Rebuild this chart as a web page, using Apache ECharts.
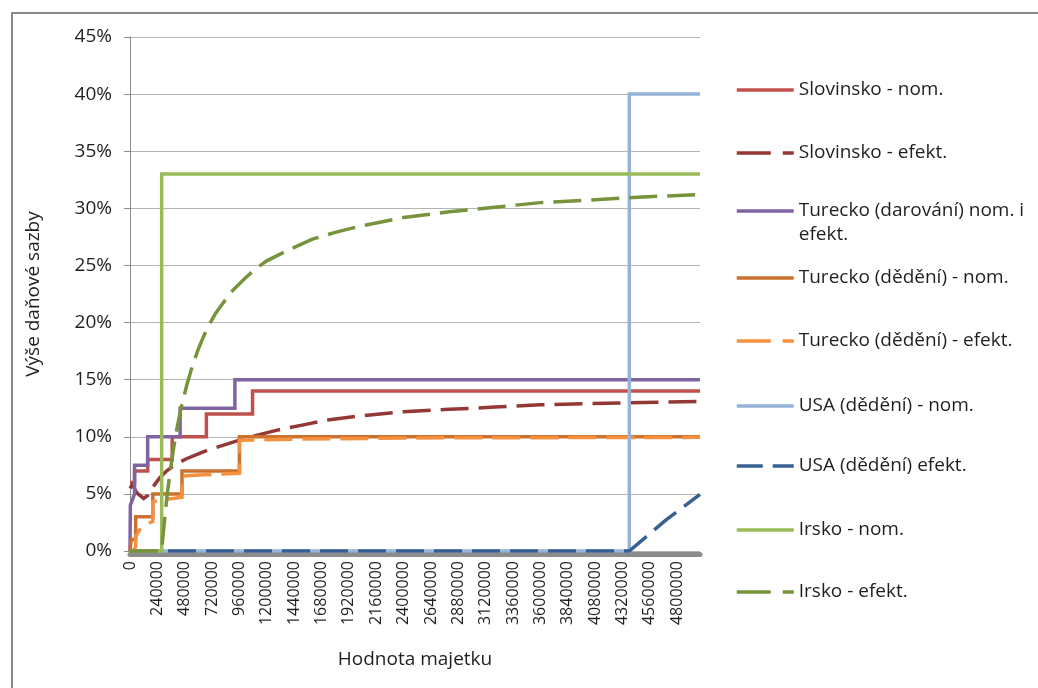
<!DOCTYPE html>
<html>
<head>
<meta charset="utf-8">
<script src="https://cdn.jsdelivr.net/npm/echarts@6.0.0/dist/echarts.min.js"></script>
<style>
  html, body { margin: 0; padding: 0; background: #fff; }
  #chart { width: 1038px; height: 688px; }
</style>
</head>
<body>
<div id="chart"></div>
<script>
// Tax rate (%) by asset value (CZK); each series is a list of [value, rate] points.
const seriesNames = [
  'Slovinsko - nom.',
  'Slovinsko - efekt.',
  'Turecko (darování) nom. i efekt.',
  'Turecko (dědění) - nom.',
  'Turecko (dědění) - efekt.',
  'USA (dědění) - nom.',
  'USA (dědění) efekt.',
  'Irsko - nom.',
  'Irsko - efekt.'
];

const slovinskoNom = [[0, 6], [40000, 6], [40000, 7], [155000, 7], [155000, 8], [370000, 8], [370000, 10],
  [670000, 10], [670000, 12], [1075000, 12], [1075000, 14], [5000000, 14]];

const slovinskoEfekt = [[0, 5.5], [20000, 5.8], [60000, 5.1], [120000, 4.6], [160000, 4.9], [200000, 5.6],
  [260000, 6.4], [320000, 7.0], [400000, 7.6], [500000, 8.1], [600000, 8.5], [700000, 8.9], [800000, 9.2],
  [960000, 9.7], [1100000, 10.1], [1300000, 10.6], [1500000, 11.0], [1750000, 11.5], [2000000, 11.8],
  [2400000, 12.2], [2800000, 12.4], [3200000, 12.6], [3600000, 12.8], [4000000, 12.9], [4500000, 13.0],
  [5000000, 13.1]];

const tureckoDarovani = [[0, 0], [3000, 4], [40000, 5], [40000, 7.5], [155000, 7.5], [155000, 10],
  [440000, 10], [440000, 12.5], [920000, 12.5], [920000, 15], [5000000, 15]];

const tureckoDedeniNom = [[0, 0], [10000, 0], [10000, 1], [50000, 1], [50000, 3], [200000, 3], [200000, 5],
  [456000, 5], [456000, 7], [960000, 7], [960000, 10], [5000000, 10]];

const tureckoDedeniEfekt = [[0, 0], [30000, 0], [50000, 0.4], [50000, 1.3], [100000, 2.1], [200000, 2.6],
  [200000, 4.3], [300000, 4.5], [456000, 4.7], [456000, 6.55], [600000, 6.65], [800000, 6.75], [960000, 6.8],
  [960000, 9.7], [1500000, 9.8], [2500000, 9.9], [5000000, 9.95]];

const usaNom = [[0, 0], [4380000, 0], [4380000, 40], [5000000, 40]];

const usaEfekt = [[0, 0], [4380000, 0], [4700000, 2.7], [5000000, 4.95]];

const irskoNom = [[0, 0], [278000, 0], [278000, 33], [5000000, 33]];

const irskoEfekt = [[0, 0], [278000, 0], [290000, 1.4], [300000, 2.4], [310000, 3.4], [325000, 4.8],
  [350000, 6.8], [375000, 8.5], [400000, 10.1], [425000, 11.4], [450000, 12.6], [500000, 14.6],
  [550000, 16.3], [600000, 17.7], [650000, 18.9], [700000, 19.9], [750000, 20.8], [800000, 21.5],
  [900000, 22.8], [1000000, 23.8], [1100000, 24.7], [1200000, 25.4], [1300000, 25.9], [1400000, 26.4],
  [1600000, 27.3], [1800000, 27.9], [2000000, 28.4], [2400000, 29.2], [2800000, 29.7], [3200000, 30.1],
  [3600000, 30.5], [4000000, 30.7], [4500000, 31.0], [5000000, 31.2]];

// Axis ranges and tick steps
const xMax = 5000000, xStep = 240000;
const yMax = 45, yStep = 5;

const FONT = '"Open Sans", "Noto Sans", sans-serif';
const TEXT = '#1f1f1f';
const DASH = [28, 10];
const LINE_W = 3.5;

const styles = [
  { color: '#C0504D', dash: null },
  { color: '#953735', dash: [34, 12] },
  { color: '#8064A2', dash: null },
  { color: '#CC7230', dash: null },
  { color: '#F5913E', dash: [34, 12] },
  { color: '#95B3D7', dash: null },
  { color: '#376092', dash: [26, 10] },
  { color: '#9BBB59', dash: null },
  { color: '#77933C', dash: [34, 12] }
];
const seriesData = [slovinskoNom, slovinskoEfekt, tureckoDarovani, tureckoDedeniNom, tureckoDedeniEfekt,
  usaNom, usaEfekt, irskoNom, irskoEfekt];

// vertical centres of the legend rows (first text line)
const legendCenters = [90, 153, 211, 278, 341, 406, 466, 530, 592];
const ROW = 24;

const series = seriesNames.map((name, i) => ({
  name,
  type: 'line',
  data: seriesData[i],
  symbol: 'none',
  showSymbol: false,
  lineStyle: { color: styles[i].color, width: LINE_W, type: styles[i].dash ? DASH : 'solid', join: 'miter', cap: 'butt' },
  itemStyle: { color: styles[i].color },
  emphasis: { disabled: true },
  animation: false
}));

// the two-line entry gets a blank leading line so its first line sits level with the icon
const legends = seriesNames.map((name, i) => ({
  data: [name],
  orient: 'vertical',
  left: 735,
  top: i === 2 ? legendCenters[i] - ROW * 1.5 : legendCenters[i] - ROW / 2,
  padding: 0,
  itemWidth: 57,
  itemHeight: ROW,
  selectedMode: false,
  itemStyle: { opacity: 0 },
  lineStyle: {
    color: styles[i].color, width: LINE_W,
    type: styles[i].dash ? styles[i].dash : 'solid', cap: 'butt'
  },
  formatter: i === 2 ? ' \nTurecko (darování) nom. i\nefekt.' : '{name}',
  textStyle: { fontFamily: FONT, fontSize: 19, color: TEXT, lineHeight: ROW }
}));

const chart = echarts.init(document.getElementById('chart'), null, { renderer: 'canvas' });
chart.setOption({
  animation: false,
  backgroundColor: '#ffffff',
  graphic: [{
    type: 'rect', silent: true, z: -10,
    shape: { x: 12, y: 13, width: 1100, height: 720 },
    style: { fill: 'none', stroke: '#8a8a8a', lineWidth: 2 }
  }],
  grid: { left: 130, top: 37, right: 338, bottom: 137, containLabel: false },
  legend: legends,
  xAxis: {
    type: 'value',
    min: 0, max: xMax, interval: xStep,
    offset: 3,
    axisLine: { onZero: false, lineStyle: { color: '#8c8c8c', width: 5 } },
    axisTick: { show: false },
    splitLine: { show: false },
    axisLabel: {
      rotate: 90, margin: 7, fontSize: 16, fontFamily: FONT, color: TEXT,
      showMaxLabel: false,
      formatter: v => String(v)
    },
    name: 'Hodnota majetku',
    nameLocation: 'middle',
    nameGap: 96,
    nameTextStyle: { fontSize: 19, fontFamily: FONT, color: TEXT }
  },
  yAxis: {
    type: 'value',
    min: 0, max: yMax, interval: yStep,
    axisLine: { show: true, lineStyle: { color: '#8c8c8c', width: 1 } },
    axisTick: { show: true, length: 6, lineStyle: { color: '#8c8c8c' } },
    splitLine: { show: true, lineStyle: { color: '#b4b4b4', width: 1 } },
    axisLabel: { formatter: '{value}%', margin: 18, fontSize: 19, fontFamily: FONT, color: TEXT },
    name: 'Výše daňové sazby',
    nameLocation: 'middle',
    nameGap: 87,
    nameRotate: 90,
    nameTextStyle: { fontSize: 19, fontFamily: FONT, color: TEXT }
  },
  series
});
</script>
</body>
</html>
